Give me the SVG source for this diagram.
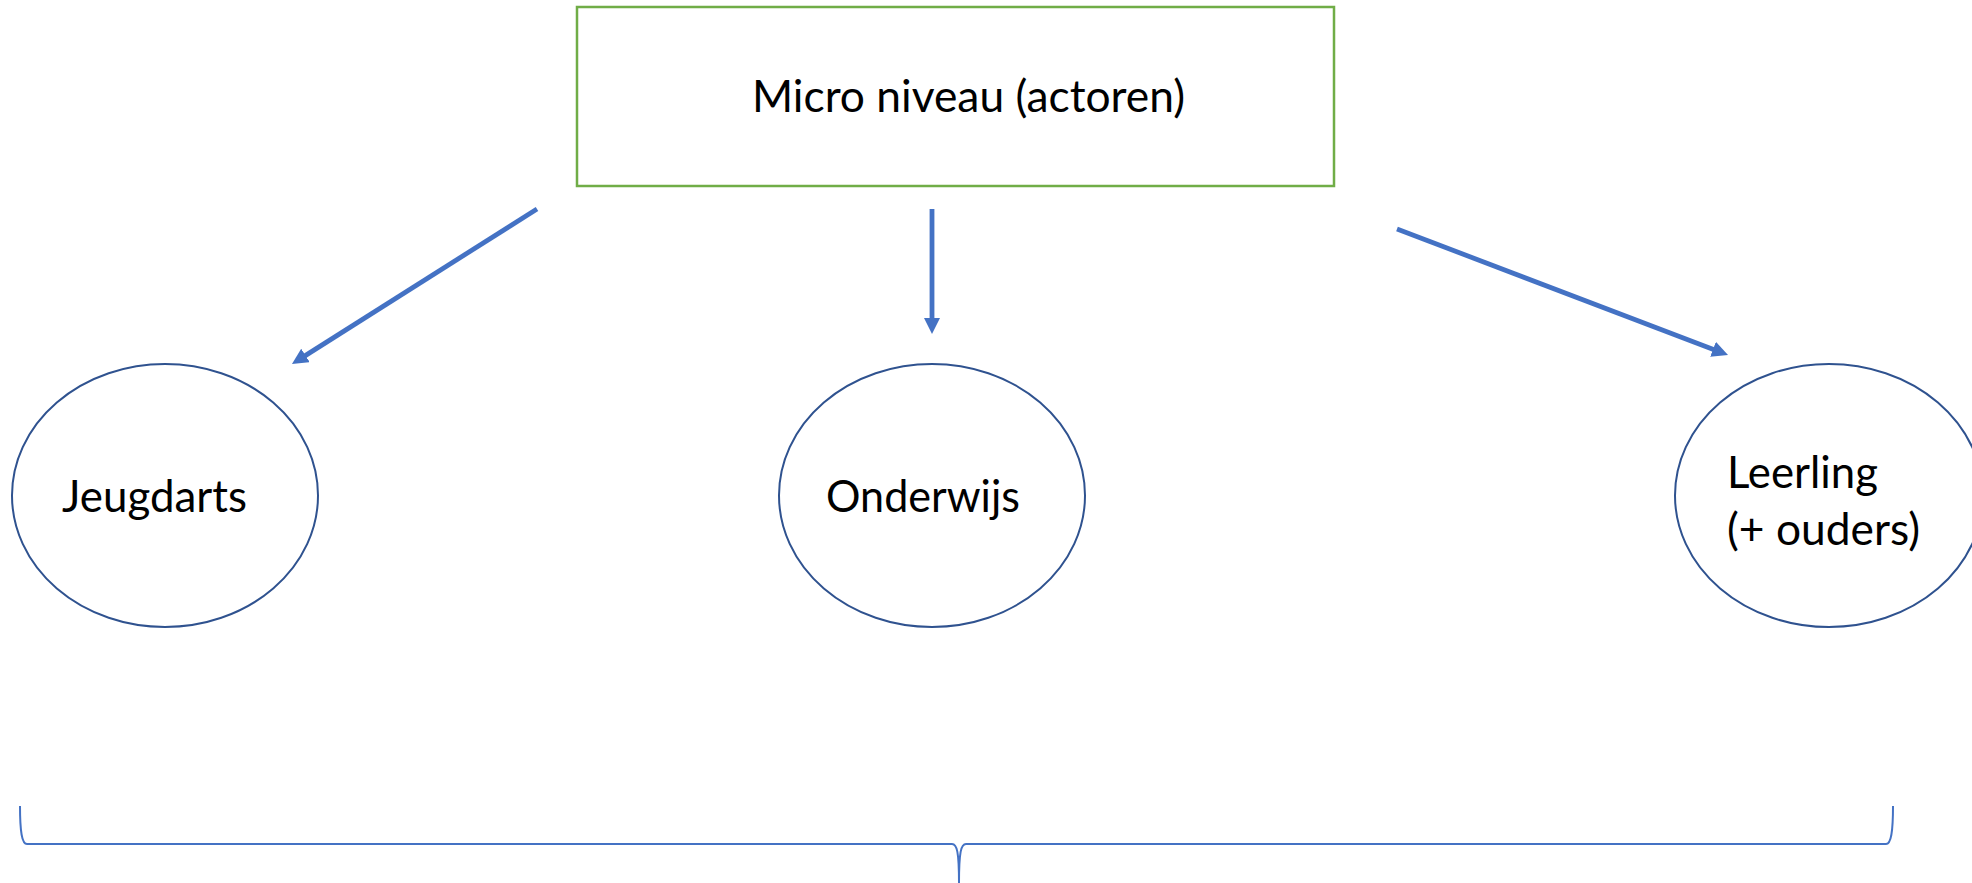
<svg xmlns="http://www.w3.org/2000/svg" width="1972" height="883" viewBox="0 0 1972 883">
  <style>
    .lbl { font-family: Lato, "Liberation Sans", sans-serif; font-size: 44px; fill: #000000; }
    .node { fill: #ffffff; stroke: #2F528F; stroke-width: 2; }
    .conn { fill: none; stroke: #4472C4; stroke-width: 4.8; }
    .brace { fill: none; stroke: #4472C4; stroke-width: 2; }
  </style>
  <defs>
    <marker id="arrow" markerUnits="userSpaceOnUse" markerWidth="17" markerHeight="17" refX="4" refY="8" orient="auto">
      <path d="M0,0 L16,8 L0,16 z" fill="#4472C4"/>
    </marker>
  </defs>
  <rect width="1972" height="883" fill="#ffffff"/>

  <g id="micro">
    <rect x="577" y="7" width="757" height="179" fill="#ffffff" stroke="#70AD47" stroke-width="2.5"/>
    <text class="lbl" x="752" y="112" textLength="433" lengthAdjust="spacingAndGlyphs">Micro niveau (actoren)</text>
  </g>

  <g id="jeugdarts">
    <ellipse class="node" cx="165" cy="495.5" rx="153" ry="131.5"/>
    <text class="lbl" x="62" y="512" textLength="185" lengthAdjust="spacingAndGlyphs">Jeugdarts</text>
  </g>

  <g id="onderwijs">
    <ellipse class="node" cx="932" cy="495.5" rx="153" ry="131.5"/>
    <text class="lbl" x="826" y="512" textLength="194" lengthAdjust="spacingAndGlyphs">Onderwijs</text>
  </g>

  <g id="leerling">
    <ellipse class="node" cx="1829" cy="495.5" rx="154" ry="131.5"/>
    <text class="lbl" x="1727" y="488" textLength="151" lengthAdjust="spacingAndGlyphs">Leerling</text>
    <text class="lbl" x="1727" y="545" textLength="193" lengthAdjust="spacingAndGlyphs">(+ ouders)</text>
  </g>

  <g id="connectors">
    <line class="conn" x1="537" y1="209" x2="302.1" y2="357.6" marker-end="url(#arrow)"/>
    <line class="conn" x1="932" y1="209" x2="932" y2="322" marker-end="url(#arrow)"/>
    <line class="conn" x1="1397" y1="229" x2="1716.8" y2="350.7" marker-end="url(#arrow)"/>
  </g>

  <g id="brace">
    <path class="brace" d="M20,806 C20,832 22,844 27,844 L952,844 C957,844 959,852 959,883 M959,883 C959,852 961,844 966,844 L1886,844 C1891,844 1893,832 1893,806"/>
  </g>
</svg>
